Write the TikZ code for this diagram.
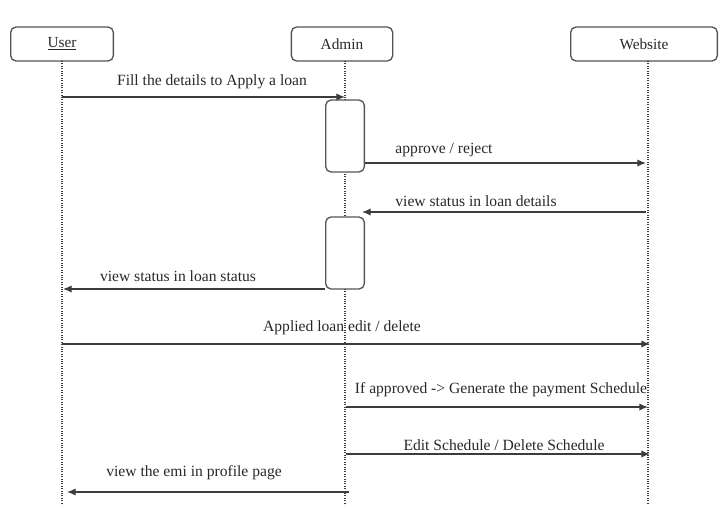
\documentclass[tikz,border=0pt]{standalone}
\usepackage{fontspec}
\setmainfont{Liberation Serif}
\usetikzlibrary{arrows.meta,positioning,calc}
\definecolor{LineGray}{RGB}{60,60,60}
\definecolor{BoxGray}{RGB}{85,85,85}
\definecolor{TextGray}{RGB}{40,40,40}
\tikzset{
  actor/.style={draw=BoxGray,rounded corners=4pt,line width=1pt,fill=white,minimum height=25.5pt,font=\fontsize{11.5}{13}\selectfont,text=TextGray},
  lifeline/.style={draw=LineGray,densely dotted,line width=0.8pt},
  activation/.style={draw=BoxGray,rounded corners=4pt,line width=1pt,fill=white,minimum width=29pt,minimum height=54pt},
  msg/.style={-{Latex[length=6.5pt,width=5.5pt]},draw=LineGray,line width=1pt},
  msglabel/.style={font=\fontsize{11.7}{13}\selectfont,text=TextGray,inner sep=1pt}
}
\begin{document}
\begin{tikzpicture}[x=0.75pt,y=-0.75pt]
\useasboundingbox (0,0) rectangle (728,517);

\node[actor,minimum width=77pt] (user) at (62,44) {\underline{User}};
\node[actor,minimum width=76pt] (admin) at (342,44) {\raisebox{-2pt}{Admin}};
\node[actor,minimum width=110pt] (web) at (644,44) {Website};

\coordinate (usertop) at (62,61);
\coordinate (userend) at (62,505);
\coordinate (admintop) at (345,61);
\coordinate (adminend) at (345,505);
\coordinate (webtop) at (648,61);
\coordinate (webend) at (648,505);
\draw[lifeline](usertop)--(userend);\draw[lifeline](admintop)--(adminend);\draw[lifeline](webtop)--(webend);

\node[activation] (act1) at (345,136) {};
\node[activation] (act2) at (345,253) {};

% messages
\coordinate (u1) at (62,97);   \coordinate (a1) at (345,97);
\coordinate (w2) at (646,163);
\coordinate (w3) at (646,212); \coordinate (a3) at (362,212);
\coordinate (u4) at (63,289);
\coordinate (u5) at (62,344);  \coordinate (w5) at (650,344);
\coordinate (a6) at (346,407); \coordinate (w6) at (648,407);
\coordinate (a7) at (346,454); \coordinate (w7) at (650,454);
\coordinate (a8) at (349,492); \coordinate (u8) at (67,492);

\draw[msg](u1)--(a1);
\draw[msg](act1.east|-w2)--(w2);
\draw[msg](w3)--(a3);
\draw[msg](act2.west|-u4)--(u4);
\draw[msg](u5)--(w5);
\draw[msg](a6)--(w6);
\draw[msg](a7)--(w7);
\draw[msg](a8)--(u8);

\node[msglabel] (l1) at (212,82) {Fill the details to Apply a loan};
\node[msglabel] (l2) at (444,150) {approve / reject};
\node[msglabel] (l3) at (476,201) {view status in loan details};
\node[msglabel] (l4) at (178,276) {view status in loan status};
\node[msglabel] (l5) at (342,328) {Applied loan edit / delete};
\node[msglabel] (l6) at (501,390) {If approved -> Generate the payment Schedule};
\node[msglabel] (l7) at (504,445) {Edit Schedule / Delete Schedule};
\node[msglabel] (l8) at (194,473) {view the emi in profile page};
\end{tikzpicture}
\end{document}
